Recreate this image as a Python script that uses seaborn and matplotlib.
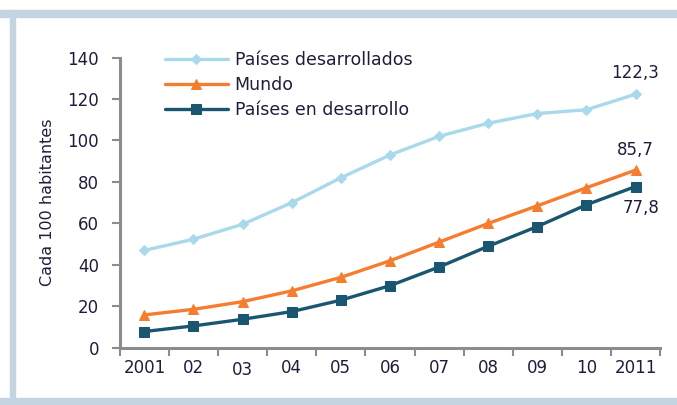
import numpy as np
import pandas as pd
import matplotlib
matplotlib.use("Agg")
import matplotlib.pyplot as plt
import matplotlib.transforms as mtransforms
from matplotlib.patches import Rectangle
import seaborn as sns

years = ["2001", "02", "03", "04", "05", "06", "07", "08", "09", "10", "2011"]
desarrollados = [47.0, 52.4, 59.6, 70.0, 82.0, 93.0, 102.0, 108.3, 113.0, 114.8, 122.3]
mundo = [15.9, 18.6, 22.3, 27.5, 34.0, 42.0, 51.0, 60.0, 68.5, 77.2, 85.7]
en_desarrollo = [7.9, 10.6, 13.8, 17.5, 23.0, 30.0, 39.0, 49.0, 58.5, 69.0, 77.8]

series_names = ["Países desarrollados", "Mundo", "Países en desarrollo"]
series_values = [desarrollados, mundo, en_desarrollo]
end_labels = ["122,3", "85,7", "77,8"]

colors = ["#a9d9ea", "#f47d30", "#1b5670"]
markers = ["D", "^", "s"]
marker_sizes = [5.5, 7.5, 7]

text_color = "#1e1e3c"
axis_color = "#8c8c8c"

sns.set_style("white")
plt.rcParams["font.family"] = ["DejaVu Sans"]

fig = plt.figure(figsize=(6.77, 4.05), dpi=100)
ax = fig.add_axes([0.177, 0.141, 0.798, 0.717])

# frame bands around the figure
band = "#c5d4e1"
fig.patches.append(Rectangle((0, 1 - 17 / 405), 1, 7 / 405, transform=fig.transFigure,
                             color=band, zorder=0))
fig.patches.append(Rectangle((10 / 677, 0), 5 / 677, 1 - 10 / 405, transform=fig.transFigure,
                             color=band, zorder=0))
fig.patches.append(Rectangle((0, 0), 1, 7 / 405, transform=fig.transFigure,
                             color=band, zorder=0))

x = np.arange(len(years))
for name, vals, c, m, ms in zip(series_names, series_values, colors, markers, marker_sizes):
    df = pd.DataFrame({"x": x, "y": vals})
    sns.lineplot(data=df, x="x", y="y", ax=ax, color=c, marker=m, markersize=ms,
                 markeredgecolor=c, linewidth=2.4, label=name)

# end-of-line value labels
ax.annotate(end_labels[0], (x[-1], desarrollados[-1]), xytext=(0, 9),
            textcoords="offset points", ha="center", va="bottom",
            fontsize=12, color=text_color)
ax.annotate(end_labels[1], (x[-1], mundo[-1]), xytext=(0, 8),
            textcoords="offset points", ha="center", va="bottom",
            fontsize=12, color=text_color)
ax.annotate(end_labels[2], (x[-1], en_desarrollo[-1]), xytext=(4, -9),
            textcoords="offset points", ha="center", va="top",
            fontsize=12, color=text_color)

ax.set_xlim(-0.5, len(years) - 0.5)
ax.set_ylim(0, 140)
ax.set_yticks(np.arange(0, 141, 20))
ax.set_xticks(x)
ax.set_xticklabels(years)
ax.set_xticks(np.arange(-0.5, len(years), 1), minor=True)
ax.tick_params(bottom=True, left=True)
ax.tick_params(axis="x", which="major", length=0, pad=8, labelsize=12, labelcolor=text_color)
ax.tick_params(axis="x", which="minor", bottom=True, length=6, width=1.5,
               color=axis_color, direction="out")
ax.tick_params(axis="y", length=6, width=1.5, color=axis_color, direction="out",
               pad=9, labelsize=12, labelcolor=text_color)

# the "03" label sits slightly lower in the original
lab03 = ax.get_xticklabels()[2]
lab03.set_transform(lab03.get_transform() +
                    mtransforms.ScaledTranslation(0, -1.5 / 72, fig.dpi_scale_trans))

ax.set_xlabel("")
ax.set_ylabel("Cada 100 habitantes", fontsize=11.5, color=text_color, labelpad=9)

for side in ["top", "right"]:
    ax.spines[side].set_visible(False)
for side in ["left", "bottom"]:
    ax.spines[side].set_color(axis_color)
    ax.spines[side].set_linewidth(2.2)

leg = ax.legend(loc="upper left", bbox_to_anchor=(0.055, 1.075), frameon=False,
                fontsize=12.5, handlelength=3.6, handletextpad=0.4,
                labelspacing=0.4, labelcolor=text_color)

fig.savefig("out.png", dpi=100)
